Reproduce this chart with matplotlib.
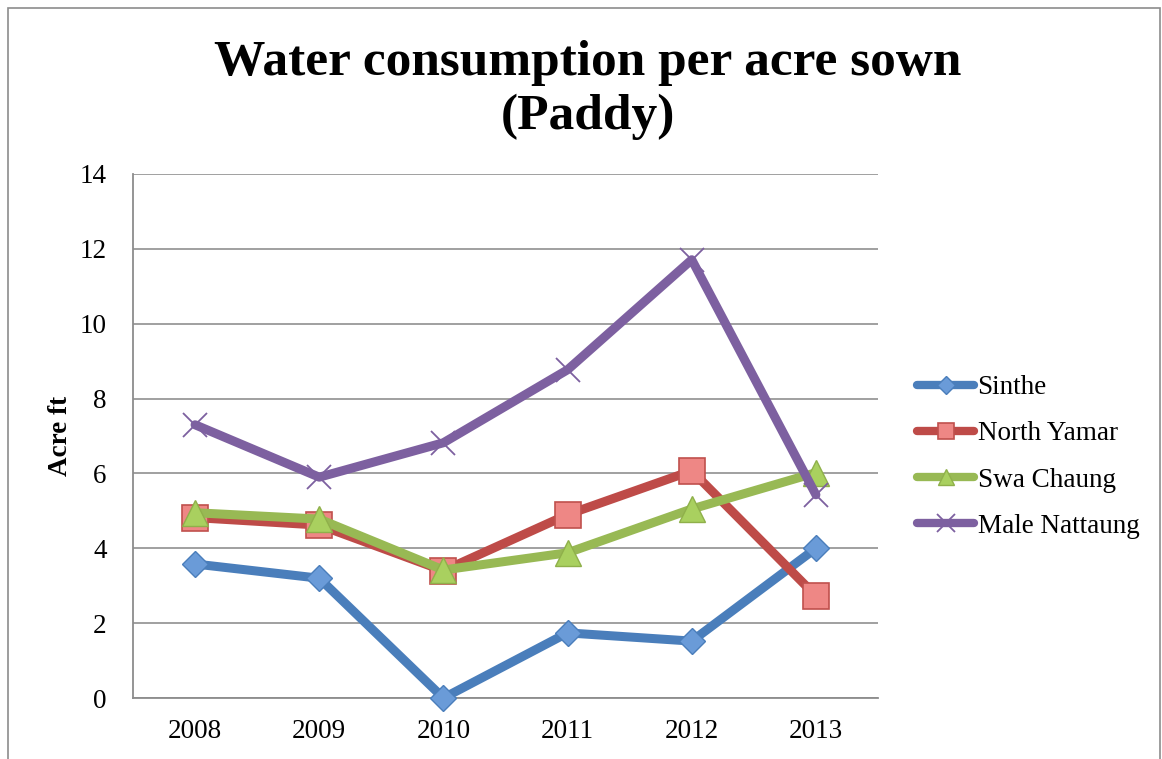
import matplotlib
matplotlib.use("Agg")
import matplotlib.pyplot as plt
from matplotlib.lines import Line2D
from matplotlib.patches import Rectangle

years = ["2008", "2009", "2010", "2011", "2012", "2013"]
sinthe = [3.58, 3.2, 0.0, 1.74, 1.52, 4.0]
north_yamar = [4.82, 4.62, 3.4, 4.9, 6.07, 2.73]
swa_chaung = [4.95, 4.78, 3.42, 3.88, 5.05, 6.02]
male_nattaung = [7.3, 5.9, 6.82, 8.77, 11.71, 5.43]
series_names = ["Sinthe", "North Yamar", "Swa Chaung", "Male Nattaung"]
yticks = [0, 2, 4, 6, 8, 10, 12, 14]

font = ["Liberation Serif", "DejaVu Serif"]
plt.rcParams['font.family'] = font

fig = plt.figure(figsize=(11.62, 7.59), dpi=100)
ax = fig.add_axes([133/1162, 1-698/759, (878-133)/1162, (698-174)/759])

# outer frame (left, top, right edges visible)
fig.patches.append(Rectangle((8/1162, -0.05), (1160-8)/1162, 1.05-8/759,
                             transform=fig.transFigure, fill=False,
                             edgecolor="#8c8c8c", linewidth=1.2))

x = list(range(len(years)))
line_colors = ["#4A7EBB", "#BE4B48", "#98B954", "#7D60A0"]
marker_styles = [
    dict(marker="D", mfc="#6A9BD8", mec="#4A7EBB", mew=1),
    dict(marker="s", mfc="#EE8785", mec="#C0504D", mew=1.2),
    dict(marker="^", mfc="#A9D05F", mec="#8FB04A", mew=1),
    dict(marker="x", mfc="#7D60A0", mec="#7D60A0", mew=1.3),
]
plot_ms = [13, 18.5, 19, 17]
legend_ms = [9, 11, 12, 13]
data = [sinthe, north_yamar, swa_chaung, male_nattaung]
for name, vals, c, ms_, ms in zip(series_names, data, line_colors, marker_styles, plot_ms):
    ax.plot(x, vals, lw=6.5, color=c, solid_capstyle="round", solid_joinstyle="round",
            label=name, zorder=3, clip_on=False, ms=ms, **ms_)

ax.set_xlim(-0.5, 5.5)
ax.set_ylim(0, 14)
ax.set_yticks(yticks)
ax.set_xticks(x)
ax.set_xticklabels(years)
ax.tick_params(axis="both", labelsize=19.5, length=0)
ax.tick_params(axis="x", pad=15)
ax.tick_params(axis="y", pad=19)
ax.grid(axis="y", color="#999999", lw=1.3)
ax.set_axisbelow(True)
for s in ["top", "right"]:
    ax.spines[s].set_visible(False)
for s in ["left", "bottom"]:
    ax.spines[s].set_color("#8c8c8c")
    ax.spines[s].set_linewidth(1.3)

ax.set_ylabel("Acre ft", fontsize=19.5, fontweight="bold", labelpad=5)

fig.text(588/1162, 1-75/759, "Water consumption per acre sown", ha="center", va="baseline",
         fontsize=37, fontweight="bold")
fig.text(588/1162, 1-129/759, "(Paddy)", ha="center", va="baseline",
         fontsize=37, fontweight="bold")

handles = []
for c, ms_, ms in zip(line_colors, marker_styles, legend_ms):
    handles.append(Line2D([0], [0], lw=6, color=c, solid_capstyle="round", ms=ms, **ms_))
leg = fig.legend(handles, series_names, loc="upper left",
                 bbox_to_anchor=(893/1162, 1-351/759), frameon=False,
                 fontsize=19.5, handlelength=2.1, handletextpad=0.12,
                 labelspacing=0.78)

fig.savefig("out.png", dpi=100)
